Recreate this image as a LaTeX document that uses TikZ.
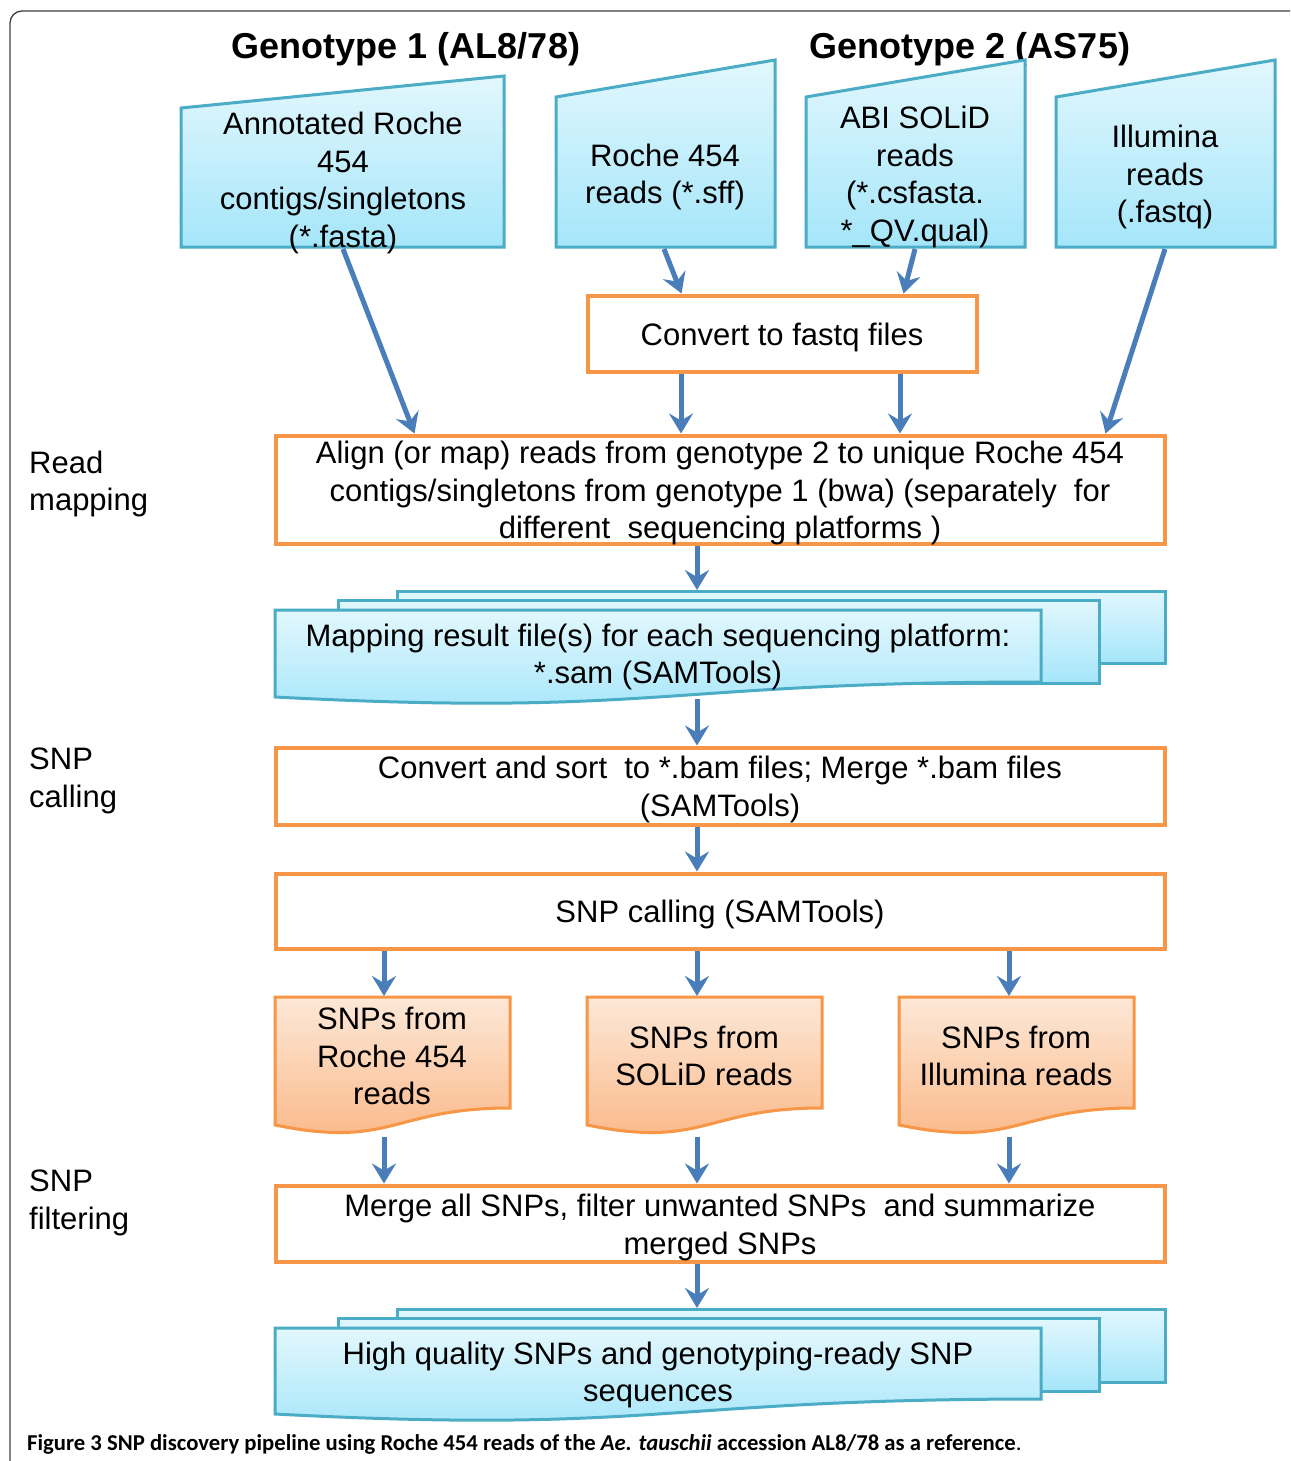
\documentclass[tikz,border=0pt]{standalone}
\usepackage{fontspec}
\setmainfont{Liberation Sans}
\newfontfamily\capfont{Carlito}
\usetikzlibrary{arrows.meta}
\definecolor{bluearrow}{HTML}{4A7EBB}
\definecolor{tealline}{HTML}{4BACC6}
\definecolor{orangeline}{HTML}{F79646}
\definecolor{cyantop}{HTML}{E2F7FD}
\definecolor{cyanbot}{HTML}{A5E6FA}
\definecolor{peachtop}{HTML}{FDE8D7}
\definecolor{peachbot}{HTML}{FAB685}
\definecolor{framegray}{HTML}{404040}
\tikzset{
  flow/.style={draw=bluearrow, line width=5pt, -{Stealth[length=20pt,width=24pt,inset=7pt]}},
  txt/.style={font=\fontsize{31}{37.5}\selectfont, align=center, inner sep=0pt},
  procbox/.style={draw=orangeline, line width=4pt, fill=white, inner sep=0pt},
  bluefill/.style={top color=cyantop, bottom color=cyanbot, draw=tealline, line width=3pt},
  peachfill/.style={top color=peachtop, bottom color=peachbot, draw=orangeline, line width=3pt},
  sidelbl/.style={font=\fontsize{31}{37.5}\selectfont, align=left, inner sep=0pt, anchor=west},
  title/.style={font=\fontsize{36}{40}\selectfont\bfseries, inner sep=0pt}
}
\begin{document}
\begin{tikzpicture}[x=1pt,y=-1pt]
\useasboundingbox (0,0) rectangle (1290,1461);
\fill[white] (0,0) rectangle (1290,1461);
% frame
\draw[framegray, line width=1.3pt, rounded corners=12pt] (10,1461) -- (10,11) -- (1290,11);

% titles
\node[title] (g1) at (406,49) {Genotype 1 (AL8/78)};
\node[title] (g2) at (970,49) {Genotype 2 (AS75)};

% manual input shapes
\path[bluefill] (181,108) -- (504,76) -- (504,247) -- (181,247) -- cycle;
\path[bluefill] (556,97) -- (775,60) -- (775,247) -- (556,247) -- cycle;
\path[bluefill] (806,97) -- (1025,60) -- (1025,247) -- (806,247) -- cycle;
\path[bluefill] (1056,97) -- (1275,60) -- (1275,247) -- (1056,247) -- cycle;
\node[txt] (ann) at (343,183) {Annotated Roche\\454\\contigs/singletons\\(*.fasta)};
\node[txt] (r454) at (665,177) {Roche 454\\reads (*.sff)};
\node[txt] (abi) at (915,177) {ABI SOLiD\\reads\\(*.csfasta.\\*\_QV.qual)};
\node[txt] (ill) at (1165,177) {Illumina\\reads\\(.fastq)};
\coordinate (annB) at (343,249);
\coordinate (r454B) at (664,249);
\coordinate (abiB) at (915,249);
\coordinate (illB) at (1165,249);

% process boxes
\node[procbox, minimum width=389pt, minimum height=76pt] (conv) at (782,333.5) {};
\node[txt] (convT) at (782,337) {Convert to fastq files};
\node[procbox, minimum width=889pt, minimum height=108pt] (align) at (720,489.5) {};
\node[txt] (alignT) at (720,493)
  {Align (or map) reads from genotype 2 to unique Roche 454\\contigs/singletons from genotype 1 (bwa) (separately\ \ for\\different\ \ sequencing platforms )};
\node[procbox, minimum width=889pt, minimum height=77pt] (sort) at (720,786) {};
\node[txt] (sortT) at (720,789.5) {Convert and sort\ \ to *.bam files; Merge *.bam files\\(SAMTools)};
\node[procbox, minimum width=889pt, minimum height=75pt] (call) at (720,911) {};
\node[txt] (callT) at (720,914) {SNP calling (SAMTools)};
\node[procbox, minimum width=889pt, minimum height=76pt] (merge) at (720,1223.5) {};
\node[txt] (mergeT) at (720,1227.5) {Merge all SNPs, filter unwanted SNPs\ \ and summarize\\merged SNPs};

% multidocument 1
\path[bluefill] (397,591) rectangle (1165,663);
\path[bluefill] (338,600) rectangle (1099,683);
\path[bluefill] (275,610) -- (1041,610) -- (1041,682)
  .. controls (658,682) and (658,717) .. (275,697) -- cycle;
\node[txt] (md1) at (658,657) {Mapping result file(s) for each sequencing platform:\\*.sam (SAMTools)};
\coordinate (md1T) at (697,590);
\coordinate (md1B) at (697,699);

% multidocument 2
\path[bluefill] (397,1309) rectangle (1165,1382);
\path[bluefill] (338,1318) rectangle (1099,1391);
\path[bluefill] (275,1328) -- (1041,1328) -- (1041,1399)
  .. controls (658,1399) and (658,1434) .. (275,1414) -- cycle;
\node[txt] (md2) at (658,1375) {High quality SNPs and genotyping-ready SNP\\sequences};
\coordinate (md2T) at (697,1308);

% orange documents
\foreach \x in {275, 587, 899}{
  \path[peachfill] (\x,997) -- ({\x+235},997) -- ({\x+235},1108)
    .. controls ({\x+117.5},1108) and ({\x+117.5},1149) .. (\x,1125) -- cycle;
}
\node[txt] (d1) at (392,1056) {SNPs from\\Roche 454\\reads};
\node[txt] (d2) at (704,1056) {SNPs from\\SOLiD reads};
\node[txt] (d3) at (1016,1056) {SNPs from\\Illumina reads};
\coordinate (d1T) at (384,996);
\coordinate (d2T) at (697,996);
\coordinate (d3T) at (1009,996);
\coordinate (d1B) at (384,1137);
\coordinate (d2B) at (697,1137);
\coordinate (d3B) at (1009,1137);
\coordinate (cA) at (681,0);
\coordinate (cB) at (900,0);

% side labels
\node[sidelbl] (l1) at (29,484) {Read\\mapping};
\node[sidelbl] (l2) at (29,781) {SNP\\calling};
\node[sidelbl] (l3) at (29,1203) {SNP\\filtering};

% connectors
\draw[flow] (annB) -- ([xshift=141pt]align.north west);
\draw[flow] (r454B) -- ([xshift=96pt]conv.north west);
\draw[flow] (abiB) -- ([xshift=318pt]conv.north west);
\draw[flow] (illB) -- ([xshift=832pt]align.north west);
\draw[flow] (conv.south -| cA) -- (align.north -| cA);
\draw[flow] (conv.south -| cB) -- (align.north -| cB);
\draw[flow] (align.south -| md1T) -- (md1T);
\draw[flow] (md1B) -- (sort.north -| md1B);
\draw[flow] (sort.south -| md1B) -- (call.north -| md1B);
\draw[flow] (call.south -| d1T) -- (d1T);
\draw[flow] (call.south -| d2T) -- (d2T);
\draw[flow] (call.south -| d3T) -- (d3T);
\draw[flow] (d1B) -- (merge.north -| d1B);
\draw[flow] (d2B) -- (merge.north -| d2B);
\draw[flow] (d3B) -- (merge.north -| d3B);
\draw[flow] (merge.south -| md2T) -- (md2T);

% caption
\node[anchor=west, inner sep=0pt, font=\capfont\fontsize{22.7}{26}\selectfont\bfseries] (cap) at (27,1444)
  {Figure 3 SNP discovery pipeline using Roche 454 reads of the \textit{Ae. tauschii} accession AL8/78 as a reference{\mdseries .}};
\end{tikzpicture}
\end{document}
